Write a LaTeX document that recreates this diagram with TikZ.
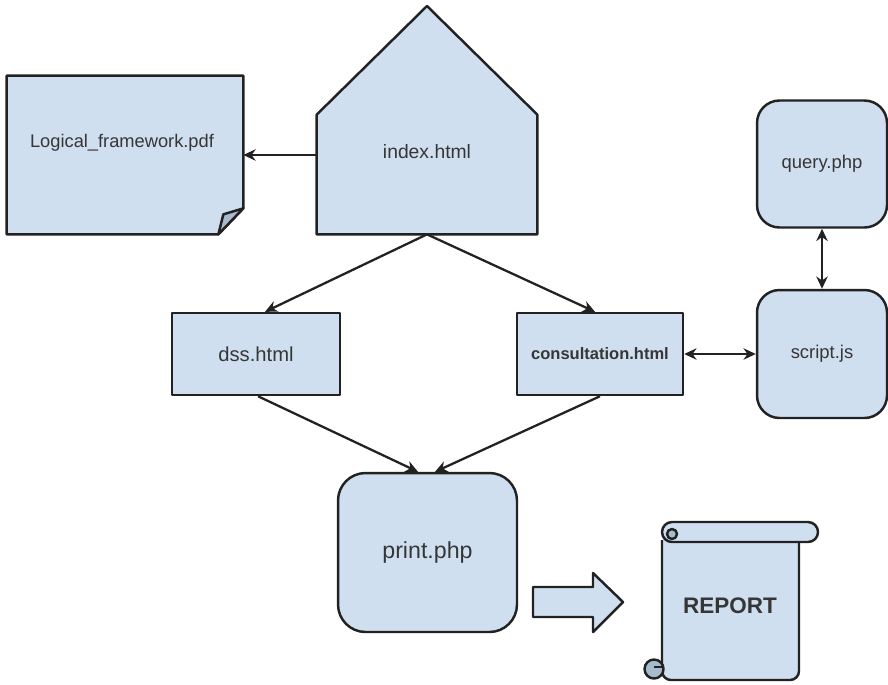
\documentclass[tikz,border=0pt]{standalone}
\usepackage{fontspec}
\setmainfont{Liberation Sans}
\usepackage{xcolor}
\usetikzlibrary{arrows.meta}
\definecolor{boxblue}{HTML}{CFDFF0}
\definecolor{curlblue}{HTML}{A7BACE}
\definecolor{edge}{HTML}{222222}
\definecolor{txtgray}{HTML}{363636}
\tikzset{
 shp/.style={draw=edge,fill=boxblue,line width=1.4pt,line join=round},
 box/.style={shp,text=txtgray,inner sep=0pt},
 rbox/.style={box,rounded corners=0.45cm},
 lbl/.style={text=txtgray,inner sep=0pt},
 link/.style={draw=edge,line width=1.3pt,-{Stealth[length=7pt,width=6.5pt]}},
 dlink/.style={link,{Stealth[length=7pt,width=6.5pt]}-{Stealth[length=7pt,width=6.5pt]}}
}

\begin{document}
\begin{tikzpicture}[x=0.02cm,y=-0.02cm]
\useasboundingbox (0,0) rectangle (888,684);
\node[minimum width=4.72cm,minimum height=3.16cm] (pdf) at (125,155) {};
\draw[shp] (pdf.north west)--(pdf.north east)--([yshift=0.52cm]pdf.south east)--([xshift=-0.5cm]pdf.south east)--(pdf.south west)--cycle;
\draw[shp,fill=curlblue] ([yshift=0.52cm]pdf.south east)--([xshift=-0.4cm,yshift=0.4cm]pdf.south east)--([xshift=-0.5cm]pdf.south east)--cycle;
\node[lbl,font=\fontsize{10.4}{12}\selectfont] at (122,143) {Logical\_framework.pdf};
\node[minimum width=4.4cm,minimum height=2.38cm] (index) at (427,174.5) {};
\draw[shp] (index.south west)--(index.north west)--(427,6)--(index.north east)--(index.south east)--cycle;
\node[lbl,font=\fontsize{11}{13}\selectfont] at (427,152) {index.html};
\node[box,minimum width=3.36cm,minimum height=1.64cm,font=\fontsize{11.5}{13}\selectfont] (dss) at (256,354) {dss.html};
\node[box,minimum width=3.32cm,minimum height=1.64cm,font=\bfseries\fontsize{9.4}{11}\selectfont] (cons) at (600,354) {consultation.html};
\node[rbox,minimum width=2.6cm,minimum height=2.54cm,font=\fontsize{10.5}{12}\selectfont] (query) at (822,164) {query.php};
\node[rbox,minimum width=2.6cm,minimum height=2.56cm,font=\fontsize{10.5}{12}\selectfont] (script) at (822,354) {script.js};
\node[box,rounded corners=0.55cm,minimum width=3.58cm,minimum height=3.18cm,font=\fontsize{13.2}{15}\selectfont] (print) at (427.5,552.5) {print.php};
\draw[link] (index.west |- pdf.east)--(pdf.east);
\draw[link] (index.south)--([xshift=0.18cm]dss.north);
\draw[link] (index.south)--([xshift=-0.1cm]cons.north);
\draw[link] ([xshift=0.04cm]dss.south)--([xshift=-0.19cm]print.north);
\draw[link] (cons.south)--([xshift=0.15cm]print.north);
\draw[dlink] (cons)--(script);
\draw[dlink] (query)--(script);
\draw[shp] (533,587)--(593,587)--(593,573)--(623,602)--(593,632)--(593,617)--(533,617)--cycle;
\draw[shp,rounded corners=0.18cm] (662,540)--(662,680)--(799,680)--(799,540);
\draw[shp,rounded corners=0.2cm] (662,522) rectangle (818,542);
\draw[shp,fill=curlblue] (672,534) circle[radius=0.1cm];
\draw[shp,fill=curlblue] (654,669) circle[radius=0.19cm];
\draw[draw=edge,line width=1.4pt] (654,667)--(662,667);
\node[lbl,font=\bfseries\fontsize{12.8}{15}\selectfont] (report) at (730,606) {REPORT};
\end{tikzpicture}
\end{document}
